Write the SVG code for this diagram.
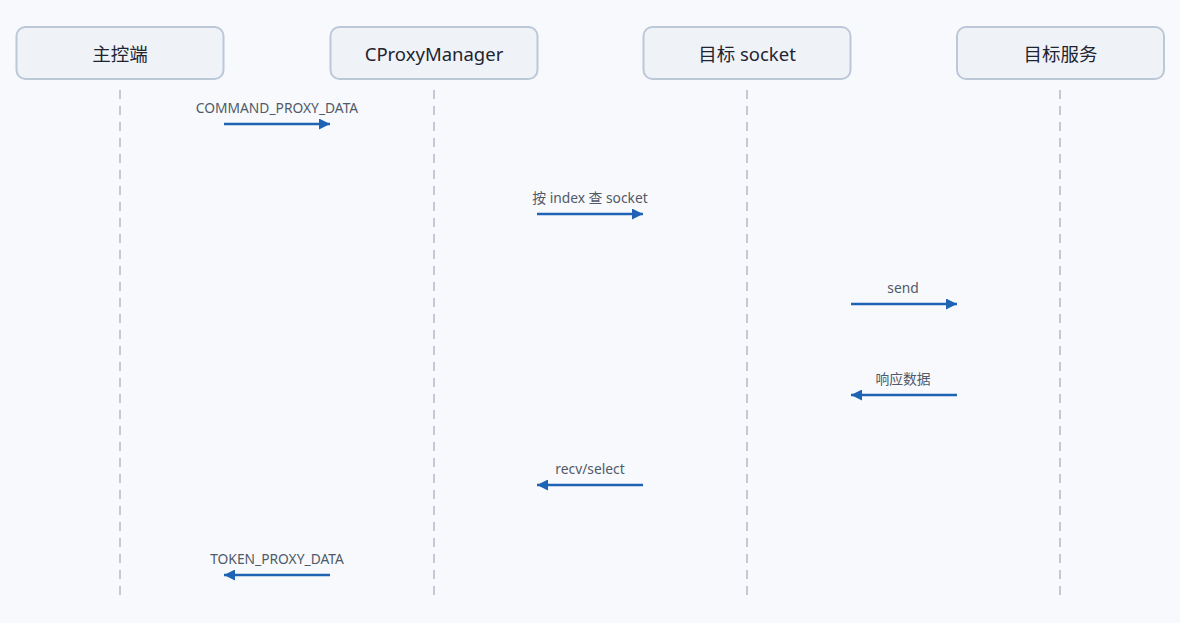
<svg xmlns="http://www.w3.org/2000/svg" width="1180" height="623" viewBox="0 0 1180 623">
<defs>
<style>
.box{fill:#eff3f8;stroke:#bcc8d8;stroke-width:2}
.title{font-family:"Noto Sans","Noto Sans CJK SC",sans-serif;font-size:18.5px;fill:#1f2430;text-anchor:middle;dominant-baseline:central}
.life{stroke:#c3cad5;stroke-width:2;stroke-dasharray:9 7;fill:none}
.msg{stroke:#1f63b4;stroke-width:2.5;fill:none}
.lbl{font-family:"Noto Sans","Noto Sans CJK SC",sans-serif;font-size:13.8px;fill:#515a68;text-anchor:middle}
</style>
<marker id="ah" viewBox="0 0 10 10" refX="10" refY="5" markerWidth="4.4" markerHeight="4.4" orient="auto-start-reverse" markerUnits="strokeWidth">
<path d="M0,0 L10,5 L0,10 Z" fill="#1f63b4"/>
</marker>
</defs>
<rect width="1180" height="623" fill="#f7f9fc"/>
<g id="node-master">
<rect class="box" x="16.5" y="27" width="207" height="52" rx="9"/>
<text class="title" x="120" y="53">主控端</text>
<line class="life" x1="120" y1="90" x2="120" y2="597"/>
</g>
<g id="node-cproxy">
<rect class="box" x="330.5" y="27" width="207" height="52" rx="9"/>
<text class="title" x="434" y="53">CProxyManager</text>
<line class="life" x1="434" y1="90" x2="434" y2="597"/>
</g>
<g id="node-socket">
<rect class="box" x="643.5" y="27" width="207" height="52" rx="9"/>
<text class="title" x="747" y="53">目标 socket</text>
<line class="life" x1="747" y1="90" x2="747" y2="597"/>
</g>
<g id="node-service">
<rect class="box" x="957" y="27" width="207" height="52" rx="9"/>
<text class="title" x="1060.5" y="53">目标服务</text>
<line class="life" x1="1060" y1="90" x2="1060" y2="597"/>
</g>
<g id="connectors">
<line class="msg" x1="224" y1="124" x2="330" y2="124" marker-end="url(#ah)"/>
<text class="lbl" x="277" y="113">COMMAND_PROXY_DATA</text>
<line class="msg" x1="537" y1="214" x2="643" y2="214" marker-end="url(#ah)"/>
<text class="lbl" x="590" y="203">按 index 查 socket</text>
<line class="msg" x1="851" y1="304" x2="957" y2="304" marker-end="url(#ah)"/>
<text class="lbl" x="903" y="293">send</text>
<line class="msg" x1="957" y1="395" x2="851" y2="395" marker-end="url(#ah)"/>
<text class="lbl" x="903" y="384">响应数据</text>
<line class="msg" x1="643" y1="485" x2="537" y2="485" marker-end="url(#ah)"/>
<text class="lbl" x="590" y="474">recv/select</text>
<line class="msg" x1="330" y1="575" x2="224" y2="575" marker-end="url(#ah)"/>
<text class="lbl" x="277" y="564">TOKEN_PROXY_DATA</text>
</g>
</svg>
